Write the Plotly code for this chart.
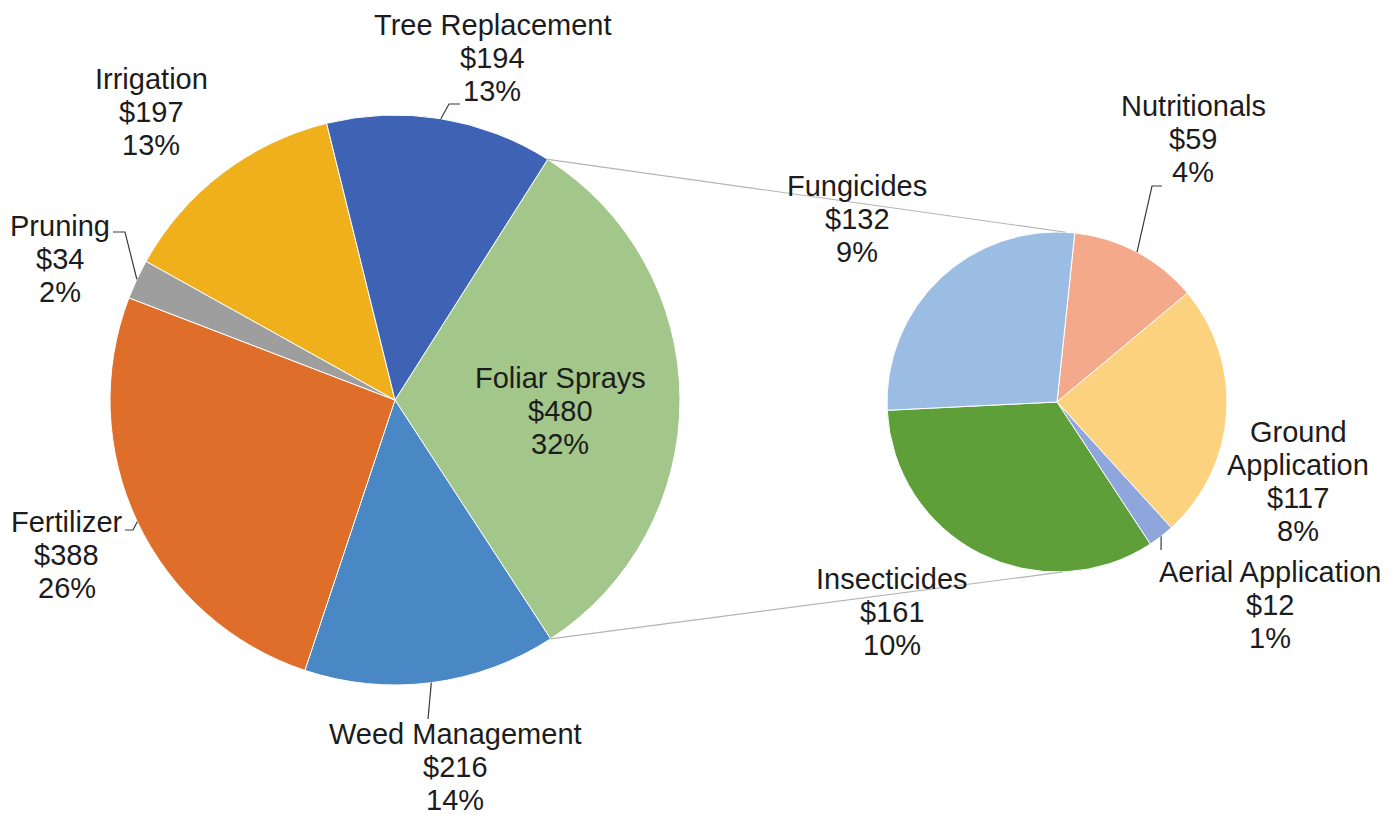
import numpy as np
import plotly.graph_objects as go

# ---- data ----
main_labels = ["Foliar Sprays", "Weed Management", "Fertilizer", "Pruning", "Irrigation", "Tree Replacement"]
main_values = [480, 216, 388, 34, 197, 194]
main_pct = [32, 14, 26, 2, 13, 13]
main_colors = ["#a3c68a", "#4a87c5", "#de6e2a", "#9e9e9e", "#f0b01c", "#3e63b4"]

sub_labels = ["Nutritionals", "Ground Application", "Aerial Application", "Insecticides", "Fungicides"]
sub_values = [59, 117, 12, 161, 132]
sub_pct = [4, 8, 1, 10, 9]
sub_colors = ["#f3a98a", "#fcd27f", "#8ea6dc", "#5f9f3a", "#9bbde3"]

# ---- geometry (page pixels; the page body has an 8px margin) ----
OFF = 8
W, H = 1392, 810
main_c, main_r = (395, 400), 285
sub_c, sub_r = (1057, 402), 170
main_rot = 32.4
sub_rot = 6.0


def px(x, y):
    return (x - OFF) / W, 1 - (y - OFF) / H


def domain(c, r):
    x0, y1 = px(c[0] - r, c[1] - r)
    x1, y0 = px(c[0] + r, c[1] + r)
    return dict(x=[x0, x1], y=[y0, y1])


def edge(c, r, ang):
    a = np.deg2rad(ang)
    return c[0] + r * np.sin(a), c[1] - r * np.cos(a)


def cum_angles(values, rot):
    tot = float(sum(values))
    starts, mids = [], []
    acc = rot
    for v in values:
        span = v / tot * 360
        starts.append(acc)
        mids.append(acc + span / 2)
        acc += span
    return starts, mids


fig = go.Figure()
fig.add_trace(go.Pie(labels=main_labels, values=main_values,
                     marker=dict(colors=main_colors, line=dict(color="white", width=1)),
                     sort=False, direction="clockwise", rotation=main_rot, textinfo="none",
                     hoverinfo="label+value", domain=domain(main_c, main_r), showlegend=False))
fig.add_trace(go.Pie(labels=sub_labels, values=sub_values,
                     marker=dict(colors=sub_colors, line=dict(color="white", width=1)),
                     sort=False, direction="clockwise", rotation=sub_rot, textinfo="none",
                     hoverinfo="label+value", domain=domain(sub_c, sub_r), showlegend=False))

m_starts, m_mids = cum_angles(main_values, main_rot)
s_starts, s_mids = cum_angles(sub_values, sub_rot)

shapes = []
line_col = "#b4b4b4"
# connector lines between the split slice and the secondary pie
p1 = edge(main_c, main_r, m_starts[0])
p2 = edge(main_c, main_r, m_starts[1])
q1 = edge(sub_c, sub_r, 3)
q2 = edge(sub_c, sub_r, 178)
for a, b in [(p1, q1), (p2, q2)]:
    x0, y0 = px(*a)
    x1, y1 = px(*b)
    shapes.append(dict(type="line", xref="paper", yref="paper", x0=x0, y0=y0, x1=x1, y1=y1,
                       line=dict(color=line_col, width=1.2)))

# label layout: (center x, first line center y) in page pixels
label_lines = {"Ground Application": ["Ground", "Application"]}
LINE = 33
main_pos = {
    "Foliar Sprays": (560, 378),
    "Weed Management": (455, 734),
    "Fertilizer": (67, 522),
    "Pruning": (60, 226),
    "Irrigation": (151, 79),
    "Tree Replacement": (492, 25),
}
sub_pos = {
    "Nutritionals": (1193, 106),
    "Ground Application": (1298, 432),
    "Aerial Application": (1270, 572),
    "Insecticides": (892, 579),
    "Fungicides": (857, 186),
}
leaders_main = {
    "Weed Management": [(428, 719)],
    "Fertilizer": [(133, 530), (125, 530)],
    "Pruning": [(125, 232), (113, 232)],
    "Tree Replacement": [(449, 104), (460, 104)],
}
leaders_sub = {
    "Nutritionals": [(1152, 186), (1162, 186)],
    "Aerial Application": [(1161, 550)],
}


def leader(c, r, ang, pts):
    x0, y0 = edge(c, r, ang)
    path = "M %f %f" % px(x0, y0)
    for (x, y) in pts:
        path += " L %f %f" % px(x, y)
    shapes.append(dict(type="path", xref="paper", yref="paper", path=path,
                       line=dict(color="#3a3a3a", width=1.2)))


annotations = []
font = dict(family="Liberation Sans, Arial, sans-serif", size=29, color="#1c1c1c")


def add_label(name, val, pct, pos):
    lines = label_lines.get(name, [name]) + ["$%d" % val, "%d%%" % pct]
    for k, t in enumerate(lines):
        x, y = px(pos[0], pos[1] + k * LINE)
        annotations.append(dict(xref="paper", yref="paper", x=x, y=y, xanchor="center", yanchor="middle",
                                text=t, showarrow=False, font=font, align="center"))


for i, nm in enumerate(main_labels):
    add_label(nm, main_values[i], main_pct[i], main_pos[nm])
    if nm in leaders_main:
        leader(main_c, main_r, m_mids[i], leaders_main[nm])
for i, nm in enumerate(sub_labels):
    add_label(nm, sub_values[i], sub_pct[i], sub_pos[nm])
    if nm in leaders_sub:
        leader(sub_c, sub_r, s_mids[i], leaders_sub[nm])

fig.update_layout(width=W, height=H, margin=dict(l=0, r=0, t=0, b=0), paper_bgcolor="white",
                  plot_bgcolor="white", shapes=shapes, annotations=annotations, showlegend=False)
fig.write_html("out.html")
